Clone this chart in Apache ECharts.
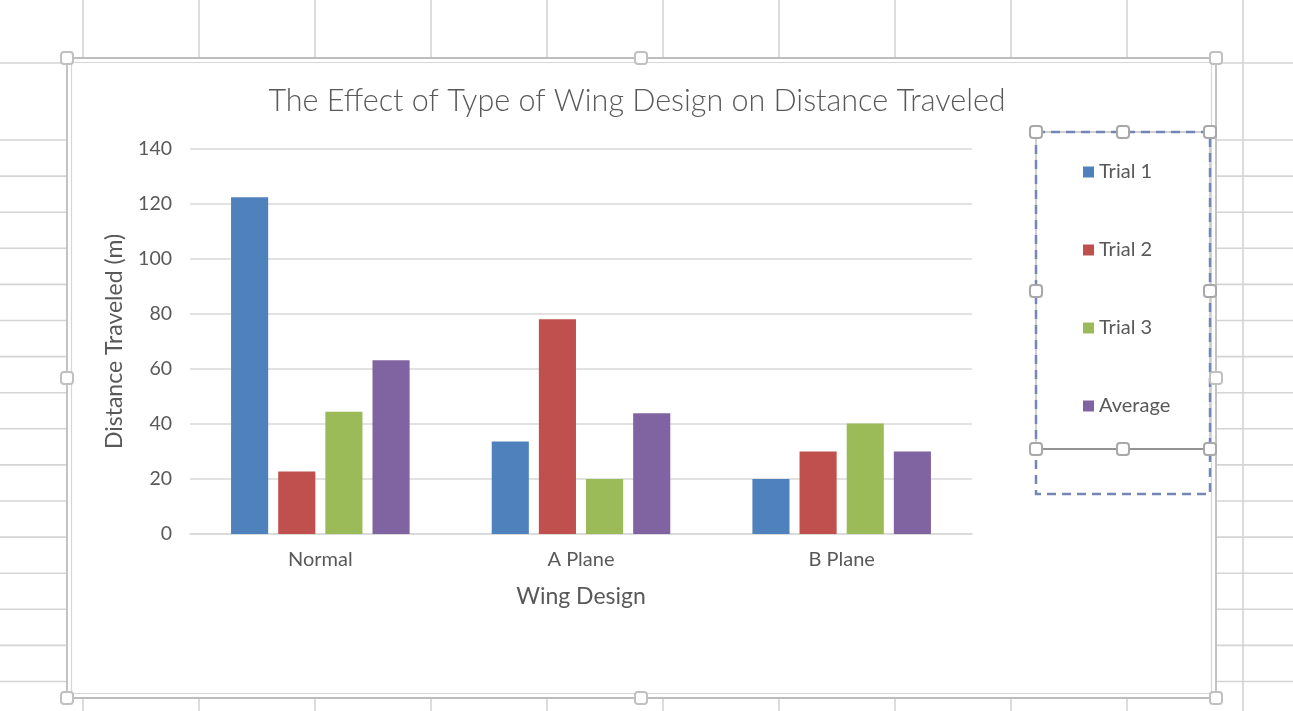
<!DOCTYPE html>
<html>
<head>
<meta charset="utf-8">
<script src="https://cdn.jsdelivr.net/npm/echarts@6/dist/echarts.min.js"></script>
<style>
html,body{margin:0;padding:0;background:#fff;}
#c{width:1293px;height:711px;}
</style>
</head>
<body>
<div id="c"></div>
<script>
const categories = ['Normal', 'A Plane', 'B Plane'];
const seriesNames = ['Trial 1', 'Trial 2', 'Trial 3', 'Average'];
const trial1 = [122.5, 33.6, 20.0];
const trial2 = [22.7, 78.1, 30.0];
const trial3 = [44.5, 20.0, 40.2];
const average = [63.2, 43.9, 30.0];
const yMin = 0, yMax = 140, yInterval = 20;

const colors = ['#4F81BD', '#C0504D', '#9BBB59', '#8064A2'];
const FONT = 'Lato';
const TXT = '#595959';

const chart = echarts.init(document.getElementById('c'));

// decorative spreadsheet background + selection frames
const gfx = [];
const sheetColor = '#d4d4d4';
for (let i = 0; i < 11; i++) {
  const x = 83 + 116 * i;
  gfx.push({type: 'line', z: -20, silent: true, shape: {x1: x, y1: 0, x2: x, y2: 711}, style: {stroke: sheetColor, lineWidth: 1.6}});
}
const rows = [63];
for (let k = 0; k < 16; k++) rows.push(140 + 36.1 * k);
rows.forEach(function (y) {
  gfx.push({type: 'line', z: -20, silent: true, shape: {x1: 0, y1: y, x2: 1293, y2: y}, style: {stroke: sheetColor, lineWidth: 1.6}});
});
// chart area
gfx.push({type: 'rect', z: -10, silent: true, shape: {x: 67, y: 58, width: 1149, height: 640}, style: {fill: '#ffffff', stroke: '#bdbdbd', lineWidth: 1.8}});
gfx.push({type: 'rect', z: -9, silent: true, shape: {x: 71.5, y: 62.5, width: 1140, height: 631}, style: {fill: 'none', stroke: '#d6d6d6', lineWidth: 1.2}});
function handle(cx, cy, stroke) {
  gfx.push({type: 'rect', z: 120, silent: true, shape: {x: cx - 6, y: cy - 6, width: 12, height: 12, r: 3}, style: {fill: '#ffffff', stroke: stroke, lineWidth: 2}});
}
[[67,58],[641,58],[1216,58],[67,378],[1216,378],[67,698],[641,698],[1216,698]].forEach(function(p){ handle(p[0], p[1], '#c0c0c0'); });
// legend selection
gfx.push({type: 'rect', z: 100, silent: true, shape: {x: 1036, y: 132, width: 174, height: 317}, style: {fill: 'none', stroke: '#a0a0a0', lineWidth: 1}});
gfx.push({type: 'rect', z: 101, silent: true, shape: {x: 1036, y: 132, width: 174, height: 362}, style: {fill: 'none', stroke: '#7386b6', lineWidth: 2.5, lineDash: [9, 6]}});
gfx.push({type: 'line', z: 102, silent: true, shape: {x1: 1036, y1: 449, x2: 1210, y2: 449}, style: {stroke: '#808080', lineWidth: 1.4}});
[[1036,132],[1123,132],[1210,132],[1036,291],[1210,291],[1036,449],[1123,449],[1210,449]].forEach(function(p){ handle(p[0], p[1], '#a8a8a8'); });

const dataSets = [trial1, trial2, trial3, average];
const series = dataSets.map(function (d, i) {
  return {
    name: seriesNames[i],
    type: 'bar',
    data: d,
    barGap: '27%',
    barCategoryGap: '31.5%',
    itemStyle: {color: colors[i]},
    emphasis: {disabled: true}
  };
});

chart.setOption({
  animation: false,
  color: colors,
  textStyle: {fontFamily: FONT},
  title: {
    text: 'The Effect of Type of Wing Design on Distance Traveled',
    left: 637,
    top: 86,
    textAlign: 'center',
    padding: 0,
    textStyle: {fontFamily: FONT, fontSize: 30.5, fontWeight: 300, color: TXT}
  },
  legend: {
    orient: 'vertical',
    left: 1083,
    top: 162,
    padding: 0,
    itemWidth: 11,
    itemHeight: 11,
    itemGap: 58,
    icon: 'rect',
    selectedMode: false,
    textStyle: {fontFamily: FONT, fontSize: 20, color: TXT, lineHeight: 20, padding: [0, 0, 0, 0]},
    data: seriesNames
  },
  grid: {left: 190, right: 321, top: 149, bottom: 177, containLabel: false},
  xAxis: {
    type: 'category',
    data: categories,
    name: 'Wing Design',
    nameLocation: 'middle',
    nameGap: 51,
    nameTextStyle: {fontFamily: FONT, fontSize: 23, color: TXT},
    axisLine: {lineStyle: {color: '#d9d9d9', width: 1.5}},
    axisTick: {show: false},
    axisLabel: {fontFamily: FONT, fontSize: 20, color: TXT, margin: 16}
  },
  yAxis: {
    type: 'value',
    min: yMin,
    max: yMax,
    interval: yInterval,
    name: 'Distance Traveled (m)',
    nameLocation: 'middle',
    nameRotate: 90,
    nameGap: 64,
    nameTextStyle: {fontFamily: FONT, fontSize: 23, color: TXT},
    axisLine: {show: false},
    axisTick: {show: false},
    splitLine: {lineStyle: {color: '#d9d9d9', width: 1.5}},
    axisLabel: {fontFamily: FONT, fontSize: 19.5, color: TXT, margin: 18}
  },
  graphic: gfx,
  series: series
});
</script>
</body>
</html>
